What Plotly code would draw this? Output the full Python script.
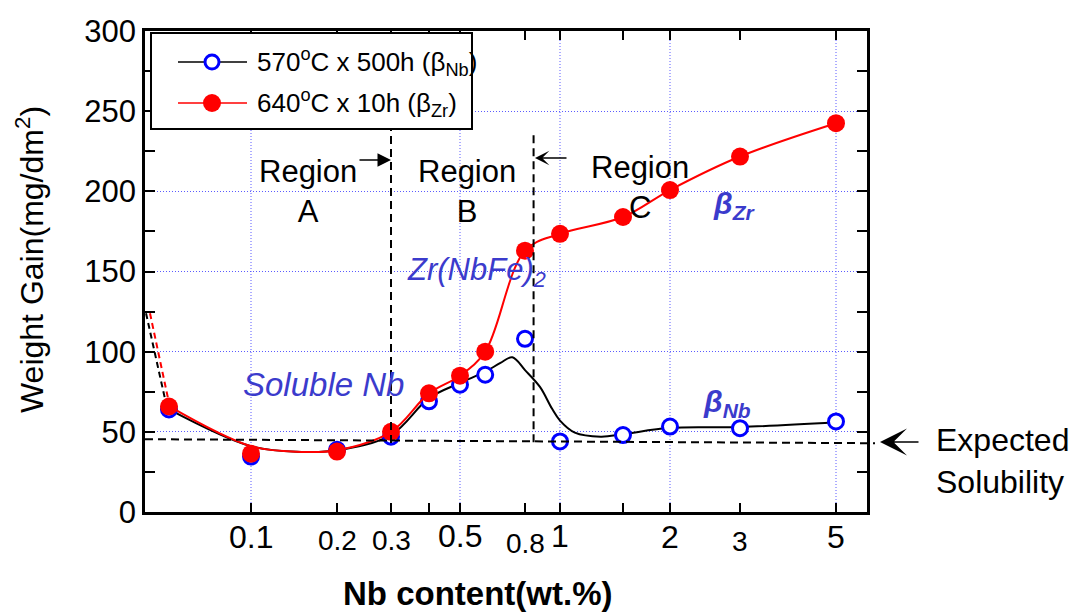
import numpy as np
import plotly.graph_objects as go

# ---------------- data ----------------
nb_570 = [0.05, 0.1, 0.2, 0.3, 0.4, 0.5, 0.6, 0.8, 1.0, 1.5, 2.0, 3.0, 5.0]
gain_570 = [64, 34.6, 38.8, 47, 69, 79.4, 85.6, 108, 44, 48, 53.3, 52.3, 56.5]

nb_640 = [0.05, 0.1, 0.2, 0.3, 0.4, 0.5, 0.6, 0.8, 1.0, 1.5, 2.0, 3.0, 5.0]
gain_640 = [65.8, 36.4, 37.7, 50, 74, 85, 100, 163, 173.5, 184, 200.8, 221.7, 242.5]

# smoothed guide curves drawn in the figure
fit570_nb = [0.05, 0.1, 0.15, 0.2, 0.3, 0.4, 0.5, 0.6, 0.67, 0.73, 0.8, 0.88, 0.95, 1.0, 1.1, 1.3, 1.5, 2.0, 3.0, 5.0]
fit570_gain = [64, 41, 37.5, 38.5, 48, 71, 80.5, 87.5, 93, 96.5, 88.5, 78, 64.5, 57, 49.5, 47, 48.5, 52.5, 53, 56]
fit640_nb = [0.05, 0.1, 0.15, 0.2, 0.3, 0.4, 0.5, 0.6, 0.8, 1.0, 1.5, 2.0, 3.0, 5.0]
fit640_gain = [66, 41, 37.5, 38.5, 50, 74, 85, 100, 163, 173.5, 184, 200.8, 221.7, 242.5]

# dashed lead-in segments at the left edge
ext570_nb = [0.0412, 0.049]
ext570_gain = [124, 66]
ext640_nb = [0.0426, 0.05]
ext640_gain = [124, 68]

# expected solubility line and region boundaries
solubility_gain = [45.4, 42.9]
region_bounds_nb = [0.3, 0.845]
region_bound_top = [238.5, 236]
region_bound_bottom = [43, 43.5]

# axis ticks / labels
tick_nb = [0.1, 0.2, 0.3, 0.4, 0.5, 0.8, 1.0, 1.5, 2.0, 3.0, 5.0]
label_nb = [0.1, 0.2, 0.3, 0.5, 0.8, 1.0, 2.0, 3.0, 5.0]
label_text = ["0.1", "0.2", "0.3", "0.5", "0.8", "1", "2", "3", "5"]
grid_nb = [0.1, 0.5, 1.0, 2.0, 5.0]

# The original x axis is a hand-made, non-uniform log-like scale:
# anchor values and their positions along the axis (axis units).
scale_nb = [0.04, 0.05, 0.1, 0.2, 0.3, 0.4, 0.5, 0.8, 1.0, 1.5, 2.0, 3.0, 5.0]
scale_pos = [142.5, 169, 251, 337, 391, 429, 460, 525, 560, 623, 670, 740, 836]


def xpos(v):
    return np.interp(np.log10(np.asarray(v, dtype=float)), np.log10(scale_nb), scale_pos)


# ---------------- layout helpers ----------------
L, R, T, B = 145, 867, 31, 512
W, H = 1080, 615


def PX(x):
    return (x - L) / (R - L)


def PY(y):
    return (B - y) / (B - T)


FONT = "Liberation Sans, Arial, sans-serif"
BLUE_TXT = "#3b3bcc"
GRID = "#5b5bff"

fig = go.Figure()

# guide curves
fig.add_trace(go.Scatter(x=xpos(ext570_nb), y=ext570_gain, mode="lines",
                         line=dict(color="black", width=2, dash="6px,4px"), hoverinfo="skip"))
fig.add_trace(go.Scatter(x=xpos(fit570_nb), y=fit570_gain, mode="lines",
                         line=dict(color="black", width=2, shape="spline", smoothing=1.0), hoverinfo="skip"))
fig.add_trace(go.Scatter(x=xpos(nb_570), y=gain_570, mode="markers", name="570",
                         marker=dict(symbol="circle", size=15, color="white",
                                     line=dict(color="#0000ff", width=3))))
fig.add_trace(go.Scatter(x=xpos(ext640_nb), y=ext640_gain, mode="lines",
                         line=dict(color="red", width=2, dash="6px,4px"), hoverinfo="skip"))
fig.add_trace(go.Scatter(x=xpos(fit640_nb), y=fit640_gain, mode="lines",
                         line=dict(color="red", width=2, shape="spline", smoothing=1.0), hoverinfo="skip"))
fig.add_trace(go.Scatter(x=xpos(nb_640), y=gain_640, mode="markers", name="640",
                         marker=dict(symbol="circle", size=18, color="red", line=dict(width=0))))

shapes = []
# vertical dotted grid lines
for g in grid_nb:
    shapes.append(dict(type="line", xref="x", yref="paper", x0=float(xpos(g)), x1=float(xpos(g)),
                       y0=0, y1=1, layer="below", line=dict(color=GRID, width=1, dash="1px,2px")))
# expected solubility dashed line (extends slightly past the frame)
shapes.append(dict(type="line", xref="paper", yref="y", x0=0, x1=PX(875),
                   y0=solubility_gain[0], y1=solubility_gain[1],
                   line=dict(color="black", width=2, dash="8px,5px")))
# region boundaries
for nb, top, bot in zip(region_bounds_nb, region_bound_top, region_bound_bottom):
    shapes.append(dict(type="line", xref="x", yref="y", x0=float(xpos(nb)), x1=float(xpos(nb)),
                       y0=bot, y1=top, line=dict(color="black", width=2, dash="8px,5px")))
# custom legend
shapes.append(dict(type="rect", xref="paper", yref="paper", x0=PX(151), x1=PX(472), y0=PY(129), y1=PY(33),
                   fillcolor="white", line=dict(color="black", width=2), layer="above"))
shapes.append(dict(type="line", xref="paper", yref="paper", x0=PX(178), x1=PX(247), y0=PY(62), y1=PY(62),
                   line=dict(color="black", width=1.5), layer="above"))
shapes.append(dict(type="line", xref="paper", yref="paper", x0=PX(178), x1=PX(247), y0=PY(103), y1=PY(103),
                   line=dict(color="red", width=1.5), layer="above"))
shapes.append(dict(type="circle", xref="paper", yref="paper", xsizemode="pixel", ysizemode="pixel",
                   xanchor=PX(212), yanchor=PY(62), x0=-7, x1=7, y0=-7, y1=7,
                   fillcolor="white", line=dict(color="#0000ff", width=3), layer="above"))
shapes.append(dict(type="circle", xref="paper", yref="paper", xsizemode="pixel", ysizemode="pixel",
                   xanchor=PX(212), yanchor=PY(103), x0=-9, x1=9, y0=-9, y1=9,
                   fillcolor="red", line=dict(color="red", width=0), layer="above"))

ann = []


def text_ann(x, y, text, size, color="black", xanchor="center", **kw):
    d = dict(x=x, y=y, xref="paper", yref="paper", text=text, showarrow=False,
             xanchor=xanchor, yanchor="middle", font=dict(size=size, color=color, family=FONT))
    d.update(kw)
    return d


# x tick labels (sizes / offsets vary in the original)
lab_size = [32, 28, 28, 32, 28, 32, 32, 28, 32]
lab_y = [537, 540, 540, 536, 543, 536, 537, 541, 537]
for v, t, s, yy in zip(label_nb, label_text, lab_size, lab_y):
    ann.append(dict(x=float(xpos(v)), xref="x", y=PY(yy), yref="paper", text=t, showarrow=False,
                    xanchor="center", yanchor="middle", font=dict(size=s, color="black", family=FONT)))
# axis titles
ann.append(text_ann(PX(477), PY(593), "<b>Nb content(wt.%)</b>", 33))
ann.append(text_ann(PX(30), PY(260), "Weight Gain(mg/dm<sup>2</sup>)", 32, textangle=-90))
# region labels
for txt, cx, cy in [("Region<br>A", 308, 191), ("Region<br>B", 467, 191), ("Region<br>C", 640, 188)]:
    ann.append(text_ann(PX(cx), PY(cy), txt, 31))
# region arrows
ann.append(dict(x=PX(391), y=PY(160), xref="paper", yref="paper", text="", showarrow=True,
                ax=-33, ay=0, arrowhead=2, arrowsize=1.8, arrowwidth=1.5, arrowcolor="black"))
ann.append(dict(x=PX(535), y=PY(158), xref="paper", yref="paper", text="", showarrow=True,
                ax=33, ay=0, arrowhead=3, arrowsize=1.6, arrowwidth=1.5, arrowcolor="black"))
# blue phase labels
ann.append(text_ann(PX(323), PY(385), "<i>Soluble Nb</i>", 33, BLUE_TXT))
ann.append(text_ann(PX(476), PY(272), "<i>Zr(NbFe)<sub>2</sub></i>", 31, BLUE_TXT))
ann.append(text_ann(PX(734), PY(206), "<b><i>β<sub>Zr</sub></i></b>", 30, BLUE_TXT))
ann.append(text_ann(PX(727), PY(403), "<b><i>β<sub>Nb</sub></i></b>", 30, BLUE_TXT))
# expected solubility
ann.append(text_ann(PX(934), PY(461), "Expected<br>Solubility", 32, xanchor="left", align="left"))
ann.append(dict(x=PX(880), y=PY(442), xref="paper", yref="paper", text="", showarrow=True,
                ax=40, ay=0, arrowhead=3, arrowsize=3, arrowwidth=1.5, arrowcolor="black"))
# legend texts
ann.append(text_ann(PX(255), PY(62), "570<sup>o</sup>C x 500h (β<sub>Nb</sub>)", 26, xanchor="left"))
ann.append(text_ann(PX(255), PY(103), "640<sup>o</sup>C x 10h (β<sub>Zr</sub>)", 26, xanchor="left"))

fig.update_layout(
    width=W, height=H,
    margin=dict(l=L, r=W - R, t=T, b=H - B, pad=0),
    paper_bgcolor="white", plot_bgcolor="white",
    showlegend=False,
    shapes=shapes, annotations=ann,
    font=dict(family=FONT, color="black"),
    xaxis=dict(range=[L, R], tickmode="array", tickvals=[float(v) for v in xpos(tick_nb)],
               showticklabels=False, ticks="inside", ticklen=9, tickwidth=2, tickcolor="black",
               showline=True, linecolor="black", linewidth=2.5, mirror="ticks",
               showgrid=False, zeroline=False),
    yaxis=dict(range=[0, 300], tickmode="linear", tick0=0, dtick=50,
               ticks="inside", ticklen=10, tickwidth=2, tickcolor="black",
               minor=dict(dtick=25, tick0=0, ticks="inside", ticklen=10, tickwidth=2, tickcolor="black",
                          showgrid=False),
               showline=True, linecolor="black", linewidth=2.5, mirror="ticks",
               showgrid=True, gridcolor=GRID, gridwidth=1, griddash="1px,2px", zeroline=False,
               tickfont=dict(size=31, family=FONT, color="black")),
)

fig.write_html("out.html")
